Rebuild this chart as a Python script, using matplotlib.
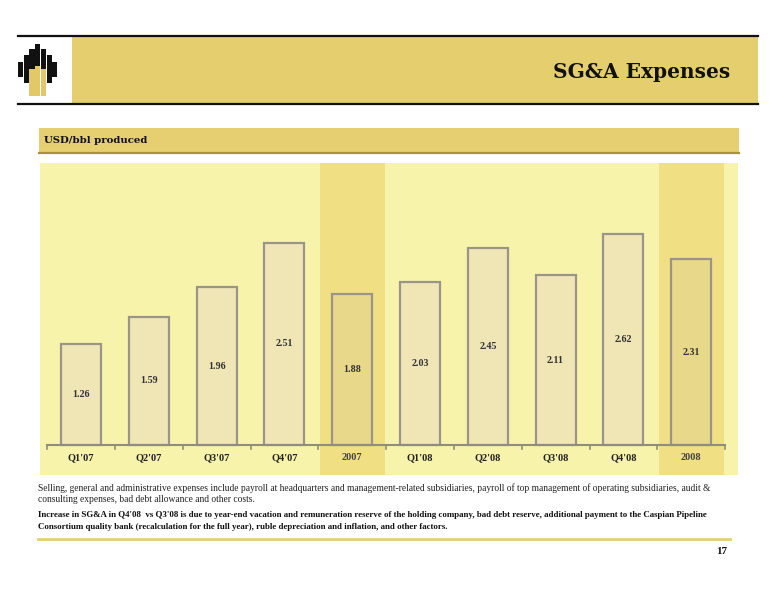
import numpy as np
import matplotlib.pyplot as plt
from matplotlib.patches import Rectangle

# Chart data (USD per barrel produced)
categories = ["Q1'07", "Q2'07", "Q3'07", "Q4'07", "2007",
              "Q1'08", "Q2'08", "Q3'08", "Q4'08", "2008"]
values = [1.26, 1.59, 1.96, 2.51, 1.88, 2.03, 2.45, 2.11, 2.62, 2.31]
is_annual = [False, False, False, False, True, False, False, False, False, True]

title = "SG&A Expenses"
subtitle = "USD/bbl produced"
note1 = ("Selling, general and administrative expenses include payroll at headquarters and management-related "
         "subsidiaries, payroll of top management of operating subsidiaries, audit &")
note2 = "consulting expenses, bad debt allowance and other costs."
note3 = ("Increase in SG&A in Q4'08  vs Q3'08 is due to year-end vacation and remuneration reserve of the holding "
         "company, bad debt reserve, additional payment to the Caspian Pipeline")
note4 = "Consortium quality bank (recalculation for the full year), ruble depreciation and inflation, and other factors."
page_no = "17"

SERIF = ["Liberation Serif", "DejaVu Serif"]
WIDE = ["DejaVu Serif"]
W, H = 776, 600

fig = plt.figure(figsize=(W / 100, H / 100), dpi=100)
fig.patch.set_facecolor("white")

# page overlay in pixel coordinates
pg = fig.add_axes([0, 0, 1, 1])
pg.set_xlim(0, W)
pg.set_ylim(H, 0)
pg.axis("off")

# header banner
pg.add_patch(Rectangle((72, 36), 686, 68, facecolor="#E5CE6E", edgecolor="none"))
pg.plot([18, 758], [35.5, 35.5], color="#111111", lw=1.6)
pg.plot([18, 758], [104, 104], color="#111111", lw=1.6)

# logo: stepped black stripes with three gold stripes in the middle
tops = [62, 55, 49, 44, 49, 55, 62]
bots = [77, 83, 88, 92, 88, 83, 77]
for i, (t, b) in enumerate(zip(tops, bots)):
    pg.add_patch(Rectangle((18 + i * 5.7, t), 5.1, b - t, facecolor="#111111", edgecolor="none"))
for i, t in zip((2, 3, 4), (69, 66, 69)):
    pg.add_patch(Rectangle((18 + i * 5.7, t), 5.1, 96 - t, facecolor="#E3C86A", edgecolor="none"))

pg.text(730, 72, title, ha="right", va="center", fontsize=14.5, fontweight="bold",
        family=WIDE, color="#111111")

# subtitle band
pg.add_patch(Rectangle((39, 128), 700, 25, facecolor="#E5CF70", edgecolor="none"))
pg.plot([39, 739], [153, 153], color="#A8923A", lw=1.6)
pg.text(44, 140.5, subtitle, ha="left", va="center", fontsize=7.3, fontweight="bold",
        family=WIDE, color="#111111")

# footnotes
pg.text(38, 488, note1, ha="left", va="center", fontsize=6.85, family=SERIF, color="#222222")
pg.text(38, 500, note2, ha="left", va="center", fontsize=6.85, family=SERIF, color="#222222")
pg.text(38, 515, note3, ha="left", va="center", fontsize=6.4, fontweight="bold", family=SERIF, color="#111111")
pg.text(38, 527, note4, ha="left", va="center", fontsize=6.4, fontweight="bold", family=SERIF, color="#111111")

pg.plot([38, 730], [538.5, 538.5], color="#E5CF70", lw=2)
pg.text(722, 551, page_no, ha="center", va="center", fontsize=8, fontweight="bold",
        family=SERIF, color="#111111")

# chart area
left, right, top, bottom = 40, 738, 163, 475
ax = fig.add_axes([left / W, 1 - bottom / H, (right - left) / W, (bottom - top) / H])
ax.set_facecolor("#F7F3AB")
ax.set_xlim(-0.605, 9.69)
ax.set_ylim(-0.373, 3.503)
for s in ax.spines.values():
    s.set_visible(False)
ax.set_xticks([])
ax.set_yticks([])

x = np.arange(len(categories))
for i in x:
    if is_annual[i]:
        ax.axvspan(i - 0.48, i + 0.48, color="#F0E083", lw=0, zorder=0)

colors = ["#E8D88A" if a else "#F0E5B5" for a in is_annual]
ax.bar(x, values, width=0.59, color=colors, edgecolor="#9A9588", linewidth=1.6, zorder=2)

# baseline with category boundary ticks
ax.plot([-0.5, 9.5], [0, 0], color="#8F8C80", lw=1.5, zorder=3)
for b in np.arange(-0.5, 10, 1):
    ax.plot([b, b], [0, -0.05], color="#8F8C80", lw=1.2, zorder=3)

for i, v in zip(x, values):
    ax.text(i, v / 2, f"{v:.2f}", ha="center", va="center", fontsize=7.2, fontweight="bold",
            family=SERIF, color="#333333", zorder=4)
    ax.text(i, -0.16, categories[i], ha="center", va="center", fontsize=7.5,
            fontweight="bold", family=SERIF, color="#222222" if not is_annual[i] else "#444444", zorder=4)

fig.savefig("out.png", dpi=100)
